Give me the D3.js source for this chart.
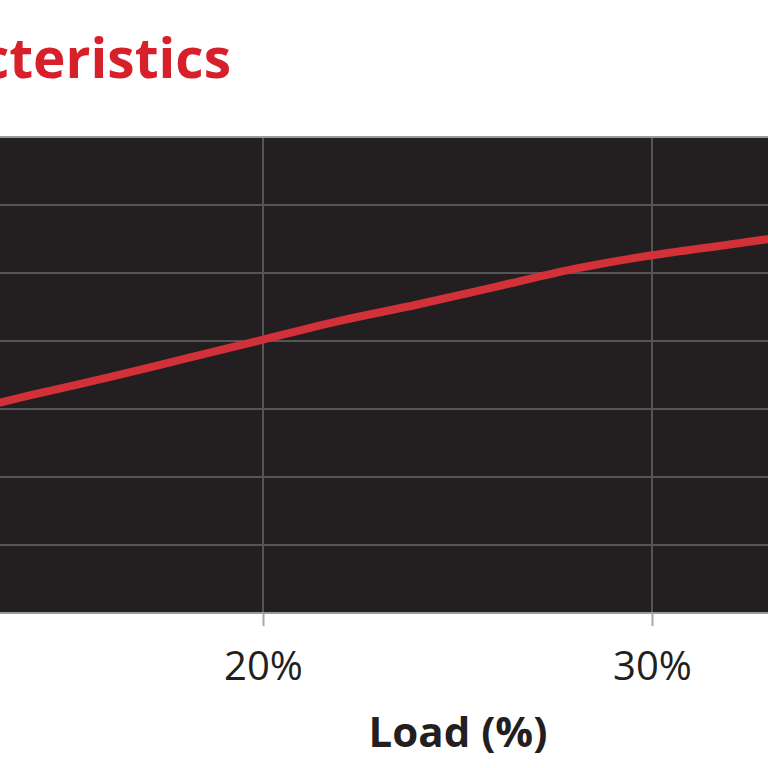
<!DOCTYPE html>
<html>
<head>
<meta charset="utf-8">
<script src="https://cdn.jsdelivr.net/npm/d3@7"></script>
<style>
  html, body { margin: 0; padding: 0; background: #ffffff; }
  svg { display: block; }
</style>
</head>
<body>
<svg id="chart" width="768" height="768"></svg>
<script>
// ---- data ----
const titleText = "Efficiency Characteristics";
const xAxisTitle = "Load (%)";
const loadPct = [12, 14, 16, 18, 20, 22, 24, 26, 28, 30, 32, 34];
const efficiency = [74.6, 76.0, 77.3, 78.7, 80.1, 81.5, 82.7, 84.0, 85.3, 86.3, 87.1, 87.9];
const xTicks = [20, 30];
const yTicks = [60, 65, 70, 75, 80, 85, 90, 95];

// ---- layout ----
const W = 768, H = 768;
const plotTop = 137, plotBottom = 613;
const svg = d3.select("#chart");

const x = d3.scaleLinear().domain([10, 40]).range([-126, 1041]);
const y = d3.scaleLinear().domain([60, 95]).range([plotBottom, plotTop]);

// title
svg.append("text")
  .attr("x", 231).attr("y", 78)
  .attr("text-anchor", "end")
  .attr("font-family", "'Open Sans', sans-serif")
  .attr("font-weight", 700)
  .attr("font-size", 55)
  .attr("fill", "#d7202a")
  .text(titleText);

// plot background
svg.append("rect")
  .attr("x", 0).attr("y", plotTop)
  .attr("width", W).attr("height", plotBottom - plotTop)
  .attr("fill", "#231f20");

// horizontal grid
svg.append("g")
  .selectAll("line")
  .data(yTicks.slice(1, -1))
  .join("line")
  .attr("x1", 0).attr("x2", W)
  .attr("y1", d => y(d)).attr("y2", d => y(d))
  .attr("stroke", "#575455").attr("stroke-width", 2);

// vertical grid
svg.append("g")
  .selectAll("line")
  .data(xTicks)
  .join("line")
  .attr("x1", d => x(d)).attr("x2", d => x(d))
  .attr("y1", plotTop).attr("y2", plotBottom)
  .attr("stroke", "#575455").attr("stroke-width", 2);

// top & bottom borders
svg.append("line")
  .attr("x1", 0).attr("x2", W).attr("y1", plotTop).attr("y2", plotTop)
  .attr("stroke", "#9a9a9a").attr("stroke-width", 2);
svg.append("line")
  .attr("x1", 0).attr("x2", W).attr("y1", plotBottom).attr("y2", plotBottom)
  .attr("stroke", "#9a9a9a").attr("stroke-width", 2);

// x axis
const xAxis = d3.axisBottom(x)
  .tickValues(xTicks)
  .tickFormat(d => d + "%")
  .tickSize(13)
  .tickPadding(26);
const gx = svg.append("g")
  .attr("transform", `translate(0,${plotBottom})`)
  .call(xAxis);
gx.select(".domain").remove();
gx.selectAll(".tick line").attr("stroke", "#a8a8a8").attr("stroke-width", 2);
gx.selectAll(".tick text")
  .attr("font-family", "'Open Sans', sans-serif")
  .attr("font-size", 40)
  .attr("fill", "#231f20");

// x axis title
svg.append("text")
  .attr("x", 458).attr("y", 747)
  .attr("text-anchor", "middle")
  .attr("font-family", "'Open Sans', sans-serif")
  .attr("font-weight", 700)
  .attr("font-size", 42)
  .attr("fill", "#231f20")
  .text(xAxisTitle);

// clip & line
svg.append("clipPath").attr("id", "clip")
  .append("rect").attr("x", 0).attr("y", plotTop).attr("width", W).attr("height", plotBottom - plotTop);

const line = d3.line()
  .x((d, i) => x(loadPct[i]))
  .y(d => y(d))
  .curve(d3.curveMonotoneX);

svg.append("path")
  .attr("clip-path", "url(#clip)")
  .attr("d", line(efficiency))
  .attr("fill", "none")
  .attr("stroke", "#d2313a")
  .attr("stroke-width", 8)
  .attr("stroke-linecap", "round");
</script>
</body>
</html>
